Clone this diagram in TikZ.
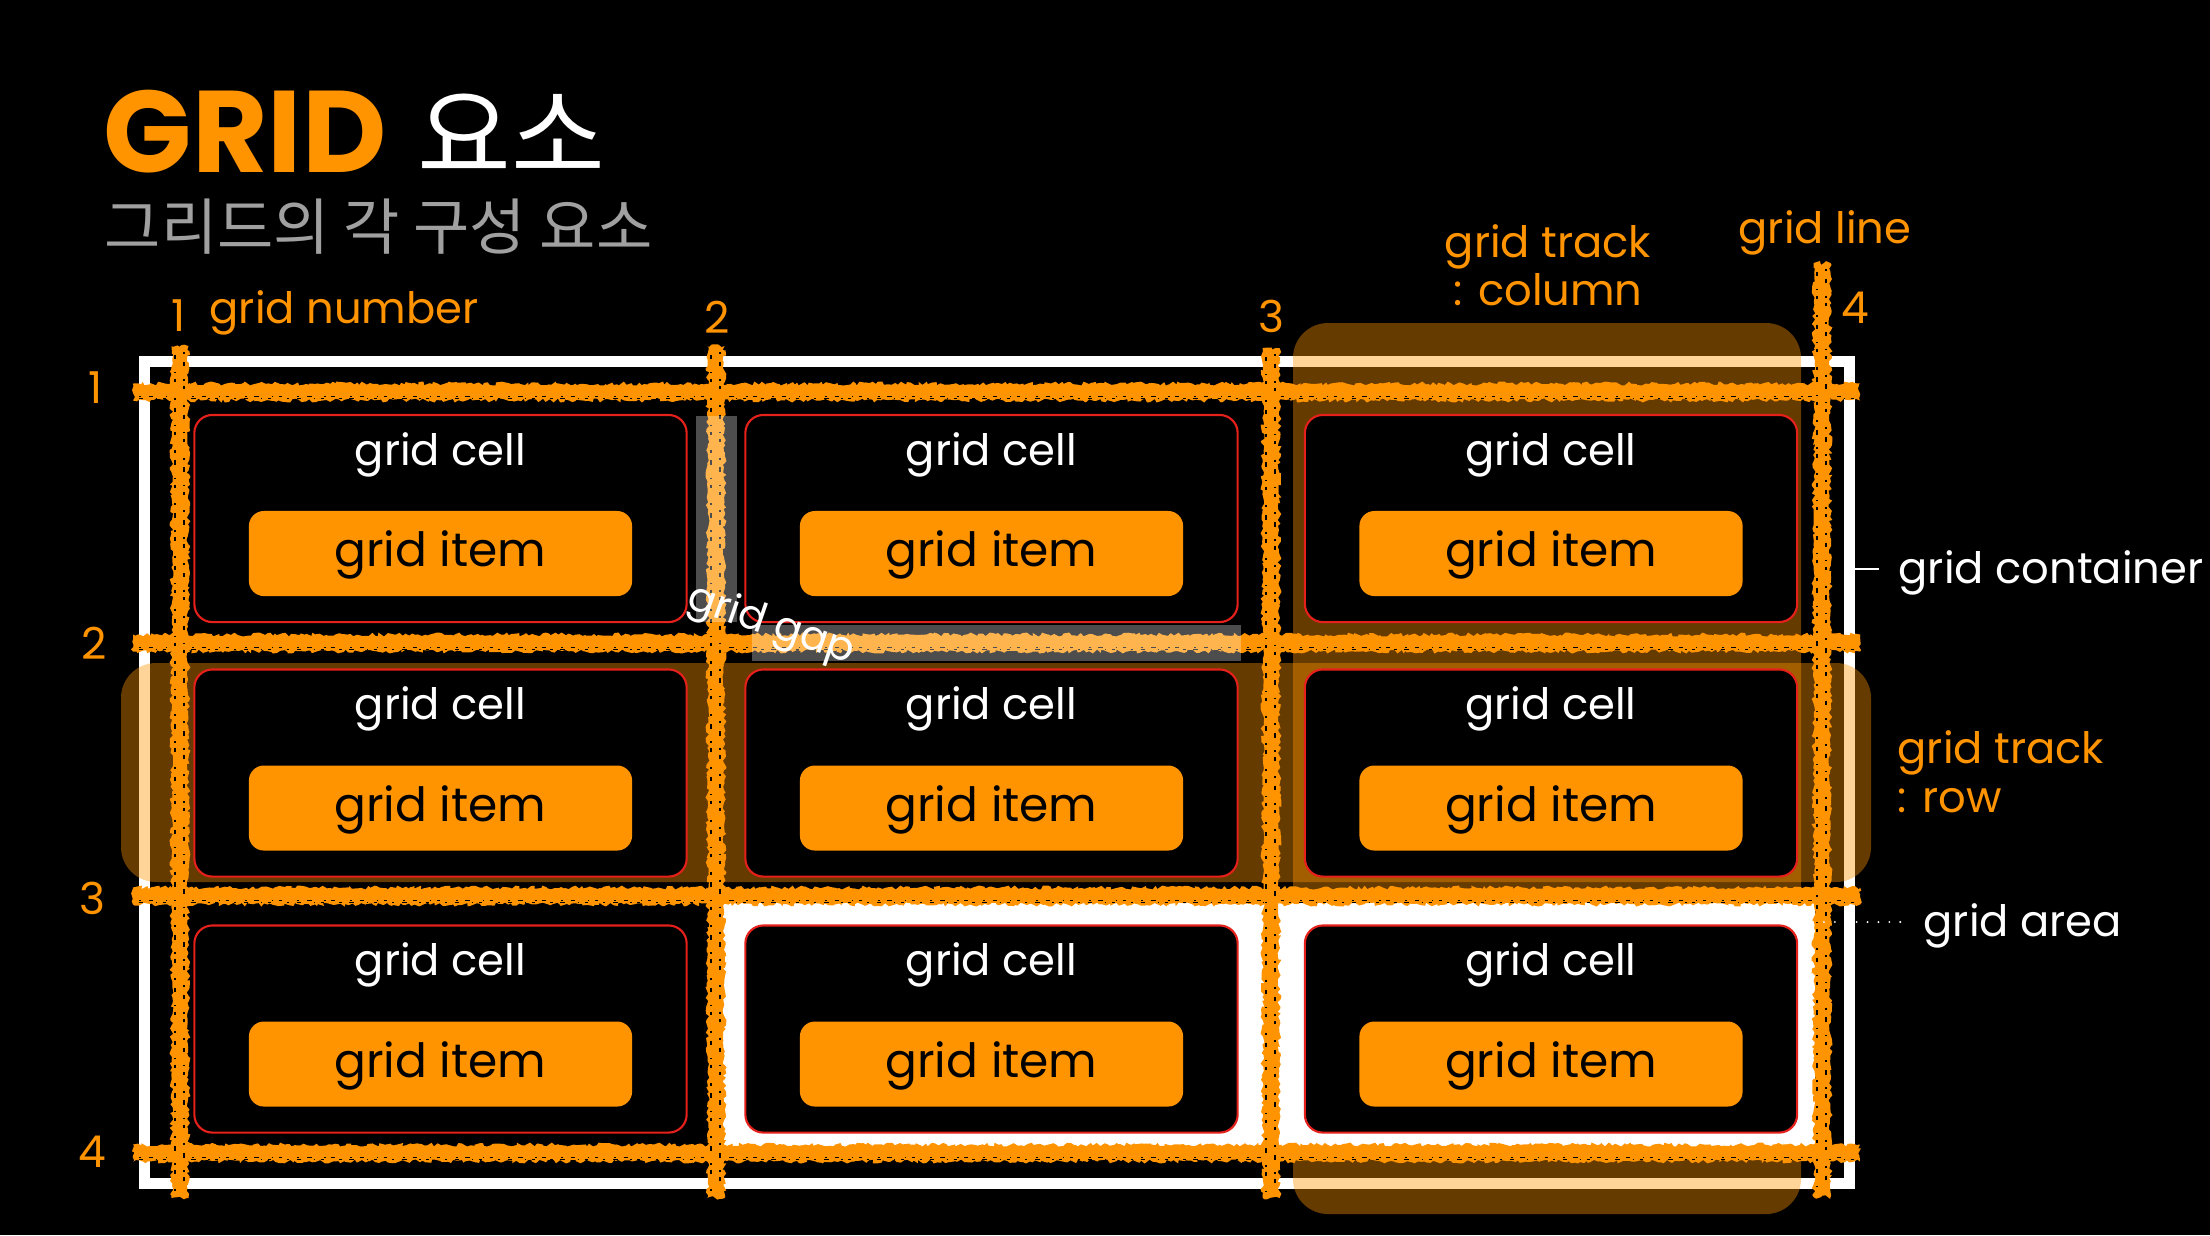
\documentclass[tikz,border=0pt]{standalone}
\usepackage{fontspec}
\setmainfont{Poppins}
\newfontfamily\kr{Noto Sans CJK KR}
\usetikzlibrary{decorations.pathmorphing}
\definecolor{gor}{RGB}{255,148,0}
\definecolor{cellred}{RGB}{230,32,26}
\definecolor{subgray}{RGB}{160,160,160}
\tikzset{
  chalk/.style={fill=gor, decorate, decoration={random steps, segment length=0.03cm, amplitude=0.02cm}},
  speck/.style={black, line width=0.45pt, dash pattern=on 0.6pt off 2.2pt on 1.3pt off 3.6pt on 0.4pt off 1.6pt on 0.9pt off 4.4pt},
  cellbox/.style={draw=cellred, line width=0.6pt, fill=black, rounded corners=0.18cm, minimum width=4.92cm, minimum height=2.07cm, inner sep=0pt},
  itembox/.style={fill=gor, rounded corners=0.15cm, minimum width=3.83cm, minimum height=0.85cm, inner sep=0pt},
  celltext/.style={white, inner sep=0pt, anchor=base, font=\fontsize{12.3}{15}\selectfont},
  itemtext/.style={black, inner sep=0pt, anchor=base, font=\fontsize{13.4}{16}\selectfont},
  numtext/.style={gor, inner sep=0pt, font=\fontsize{12.5}{15}\selectfont},
  otext/.style={gor, inner sep=0pt, font=\fontsize{12.3}{15}\selectfont},
  wtext/.style={white, inner sep=0pt, font=\fontsize{12.3}{15}\selectfont},
  hilite/.style={fill=gor, opacity=0.4, rounded corners=0.35cm},
  gapbox/.style={fill=white, opacity=0.3}
}
\newcommand\chalkH[3]{%
  \fill[chalk] (#1,#3-8.5) rectangle (#2,#3+8.5);
  \draw[speck] (#1+6,#3+4.5) -- (#2-6,#3+4.5);
  \draw[speck, dash phase=3pt] (#1+6,#3+6.5) -- (#2-6,#3+6.5);}
\newcommand\chalkV[3]{%
  \fill[chalk] (#3-8.5,#1) rectangle (#3+8.5,#2);
  \draw[speck] (#3+4,#1+6) -- (#3+4,#2-6);
  \draw[speck, dash phase=2pt] (#3-5,#1+6) -- (#3-5,#2-6);}
\begin{document}
\begin{tikzpicture}[x=0.01cm,y=-0.01cm]
\pgfmathsetseed{7}
\fill[black] (0,0) rectangle (2210,1235);
\useasboundingbox (0,0) rectangle (2210,1235);

% title
\node[anchor=base west, inner sep=0pt, font=\fontsize{33}{40}\selectfont] (title) at (103,172)
  {\textcolor{gor}{\bfseries GRID} \textcolor{white}{\kr\fontsize{29}{35}\selectfont 요소}};
\node[anchor=base west, inner sep=0pt, subgray, font=\kr\fontsize{17.4}{21}\selectfont] (subtitle) at (104,249)
  {그리드의 각 구성 요소};

% container
\node[draw=white, line width=3.13pt, minimum width=17.04cm, minimum height=8.21cm, inner sep=0pt] (container) at (997,772.5) {};

% highlights
\fill[hilite] (1293,323) rectangle (1801,1214);
\fill[hilite] (121,663) rectangle (1871,882);

% grid area
\fill[white] (722,898) rectangle (1815,1150);

% cells and items
\foreach \cx/\cn in {440.5/1, 991.5/2, 1551/3}{
  \foreach \cy/\rn in {518.5/1, 773/2, 1029/3}{
    \node[cellbox] (cell\rn\cn) at (\cx,\cy) {};
    \node[itembox] (item\rn\cn) at (\cx,\cy+35) {};
    \node[celltext] (ct\rn\cn) at (\cx,\cy-53.5) {grid cell};
    \node[itemtext] (it\rn\cn) at (\cx,\cy+48) {grid item};
  }
}

% grid lines
\chalkH{133}{1860}{392}
\chalkH{133}{1860}{643}
\chalkH{133}{1860}{896}
\chalkH{133}{1860}{1153}
\chalkV{346}{1198}{180}
\chalkV{346}{1198}{716}
\chalkV{348}{1198}{1271}
\chalkV{263}{1197}{1822}

% gaps
\fill[gapbox] (696,416) rectangle (737,622);
\fill[gapbox] (752,625) rectangle (1241,661);
\node[white, inner sep=0pt, rotate=-19, font=\fontsize{11.6}{14}\selectfont] (gaplbl) at (771,626) {grid gap};

% numbers
\node[numtext] (n1) at (179,316) {1};
\node[numtext] (n2) at (717,317) {2};
\node[numtext] (n3) at (1271,316) {3};
\node[numtext] (n4) at (1855,308) {4};
\node[numtext] (r1) at (96,388) {1};
\node[numtext] (r2) at (94,643) {2};
\node[numtext] (r3) at (92,898) {3};
\node[numtext] (r4) at (92,1152) {4};
\node[otext, anchor=base west] (gnum) at (209,323) {grid number};

% labels
\node[otext, anchor=base] (gtc1) at (1548,257) {grid track};
\node[otext, anchor=base] (gtc2) at (1548,305) {: column};
\node[otext, anchor=base] (gline) at (1825,243) {grid line};
\node[wtext, anchor=base west] (gcont) at (1898,583) {grid container};
\coordinate (tickA) at (1853,569);
\coordinate (tickB) at (1879,569);
\draw[white, line width=0.5pt] (tickA) -- (tickB);
\node[otext, anchor=base west] (gtr1) at (1897,763) {grid track};
\node[otext, anchor=base west] (gtr2) at (1897,812) {: row};
\node[wtext, anchor=base west] (garea) at (1923,936) {grid area};
\coordinate (dotA) at (1813,922);
\coordinate (dotB) at (1907,922);
\draw[white, line width=0.6pt, line cap=round, dash pattern=on 0pt off 3.1pt] (dotA) -- (dotB);
\end{tikzpicture}
\end{document}
